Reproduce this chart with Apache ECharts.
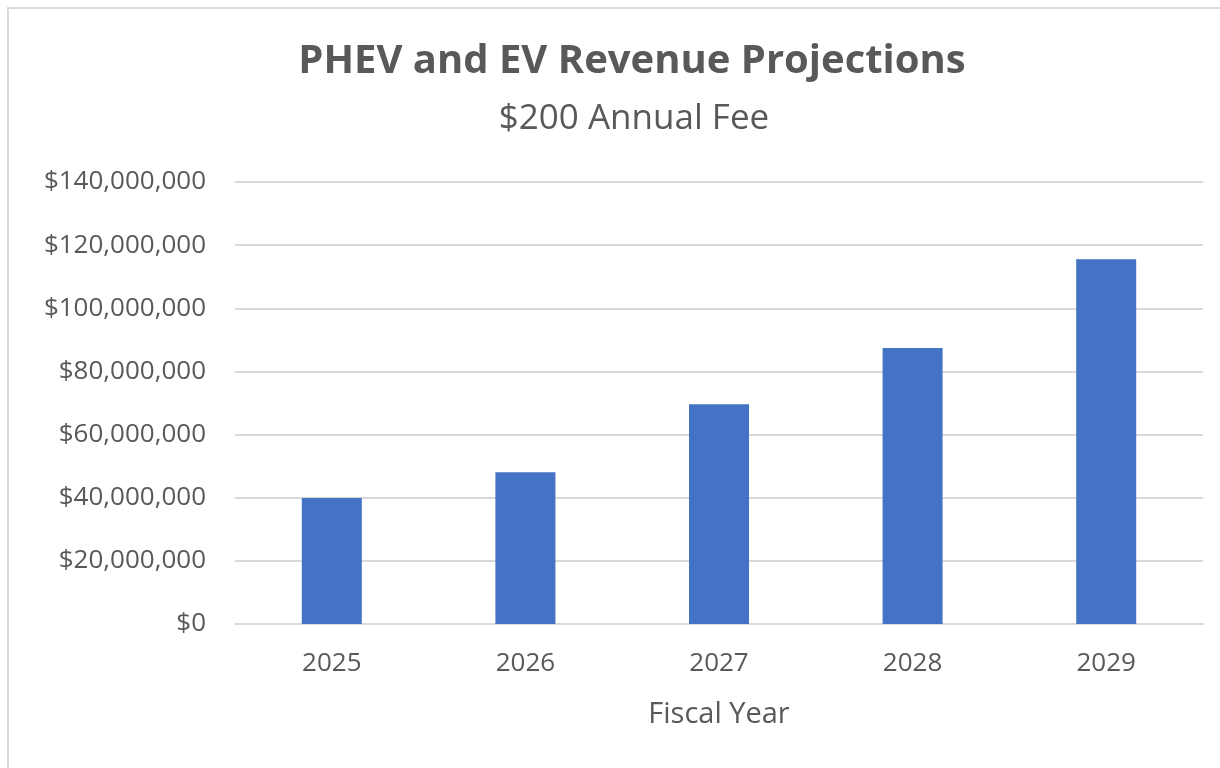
<!DOCTYPE html>
<html>
<head>
    <meta charset="utf-8">
    <title>PHEV and EV Revenue Projections</title>
    <script src="https://cdn.jsdelivr.net/npm/echarts@6.0.0/dist/echarts.min.js"></script>
    <style>
        html, body { margin: 0; padding: 0; background: #fff; overflow: hidden; }
        /* light frame, only top and left edges visible */
        #frame {
            position: absolute; left: 7px; top: 7px;
            width: 1240px; height: 790px;
            border: 2px solid #d9d9d9;
        }
        #chart { position: absolute; left: 0; top: 0; width: 1220px; height: 768px; }
    </style>
</head>
<body>
    <div id="frame"></div>
    <div id="chart"></div>

    <script>
        // fiscal years and projected revenue ($)
        const years = ['2025', '2026', '2027', '2028', '2029'];
        const revenue = [39900000, 48100000, 69600000, 87400000, 115500000];

        const textColor = '#595959';
        const fontFamily = '"Open Sans", sans-serif';

        const chart = echarts.init(document.getElementById('chart'));

        const option = {
            animation: false,
            title: [
                {
                    text: 'PHEV and EV Revenue Projections',
                    left: 627, top: 37, textAlign: 'center',
                    textStyle: { color: textColor, fontFamily: fontFamily, fontSize: 40, fontWeight: 'bold' }
                },
                {
                    text: '$200 Annual Fee',
                    left: 629, top: 97, textAlign: 'center',
                    textStyle: { color: textColor, fontFamily: fontFamily, fontSize: 35, fontWeight: 'normal' }
                }
            ],
            grid: { left: 235, right: 17, top: 182, bottom: 144, containLabel: false },
            xAxis: {
                type: 'category',
                data: years,
                name: 'Fiscal Year',
                nameLocation: 'middle',
                nameGap: 76,
                nameTextStyle: { color: textColor, fontFamily: fontFamily, fontSize: 29 },
                axisLine: { show: true, lineStyle: { color: '#d9d9d9', width: 2 } },
                axisTick: { show: false },
                axisLabel: { color: textColor, fontFamily: fontFamily, fontSize: 26, margin: 27 }
            },
            yAxis: {
                type: 'value',
                min: 0, max: 140000000, interval: 20000000,
                axisLine: { show: false },
                axisTick: { show: false },
                splitLine: { lineStyle: { color: '#d9d9d9', width: 2 } },
                axisLabel: {
                    color: textColor, fontFamily: fontFamily, fontSize: 26, margin: 29,
                    formatter: v => '$' + v.toLocaleString('en-US')
                }
            },
            series: [{
                type: 'bar',
                data: revenue,
                barWidth: 60,
                itemStyle: { color: '#4472c4' }
            }]
        };

        chart.setOption(option);
    </script>
</body>
</html>
